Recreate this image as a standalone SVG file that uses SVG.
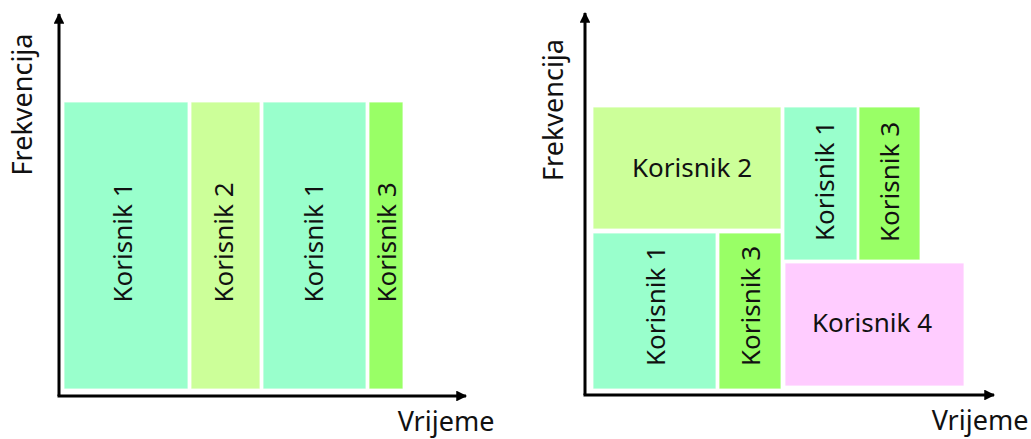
<svg xmlns="http://www.w3.org/2000/svg" width="1031" height="439" viewBox="0 0 1031 439">
  <style>
    .axis { stroke: #000; stroke-width: 3; fill: none; marker-end: url(#arrow); }
    .blk { stroke: #ffffff; stroke-width: 1; stroke-opacity: 0.8; }
    .u1 { fill: #99ffcc; }
    .u2 { fill: #ccff99; }
    .u3 { fill: #99ff66; }
    .u4 { fill: #ffccff; }
    text { font-family: "Noto Sans", "Open Sans", sans-serif; font-size: 26px; fill: #111; text-anchor: middle; }
    .ax { font-size: 27px; }
  </style>
  <defs>
    <marker id="arrow" viewBox="0 0 10 10" refX="9" refY="5" markerWidth="4" markerHeight="3.6" orient="auto" markerUnits="strokeWidth">
      <path d="M0,0 L10,5 L0,10 Z" fill="#000"/>
    </marker>
  </defs>

  <rect width="1031" height="439" fill="#ffffff"/>

  <!-- Left chart: time division -->
  <g id="left-k1a"><rect class="blk u1" x="64" y="102" width="124" height="287"/><text transform="translate(131.5,242.5) rotate(-90)">Korisnik 1</text></g>
  <g id="left-k2"><rect class="blk u2" x="191" y="102" width="69" height="287"/><text transform="translate(233,242.5) rotate(-90)">Korisnik 2</text></g>
  <g id="left-k1b"><rect class="blk u1" x="263" y="102" width="103" height="287"/><text transform="translate(323,242.5) rotate(-90)">Korisnik 1</text></g>
  <g id="left-k3"><rect class="blk u3" x="369" y="102" width="34" height="287"/><text transform="translate(396,242.5) rotate(-90)">Korisnik 3</text></g>

  <!-- Right chart: time and frequency division -->
  <g id="right-k2"><rect class="blk u2" x="593" y="107" width="188" height="122"/><text x="692" y="177">Korisnik 2</text></g>
  <g id="right-k1a"><rect class="blk u1" x="593" y="233" width="123" height="156"/><text transform="translate(665,306) rotate(-90)">Korisnik 1</text></g>
  <g id="right-k3a"><rect class="blk u3" x="719" y="233" width="62" height="156"/><text transform="translate(760,306) rotate(-90)">Korisnik 3</text></g>
  <g id="right-k1b"><rect class="blk u1" x="784" y="107" width="73" height="153"/><text transform="translate(834,181) rotate(-90)">Korisnik 1</text></g>
  <g id="right-k3b"><rect class="blk u3" x="859" y="107" width="61" height="153"/><text transform="translate(899,182) rotate(-90)">Korisnik 3</text></g>
  <g id="right-k4"><rect class="blk u4" x="785" y="263" width="179" height="123"/><text x="872" y="332">Korisnik 4</text></g>

  <!-- Axes -->
  <g id="connectors">
    <path class="axis" d="M59,396 L59,14"/>
    <path class="axis" d="M57.5,396 L466,396"/>
    <path class="axis" d="M585,395 L585,13"/>
    <path class="axis" d="M583.5,395 L994,395"/>
  </g>

  <!-- Axis labels -->
  <g id="labels">
    <text class="ax" transform="translate(32,104.5) rotate(-90)">Frekvencija</text>
    <text class="ax" x="446" y="431">Vrijeme</text>
    <text class="ax" transform="translate(563,110) rotate(-90)">Frekvencija</text>
    <text class="ax" x="980" y="430">Vrijeme</text>
  </g>
</svg>
